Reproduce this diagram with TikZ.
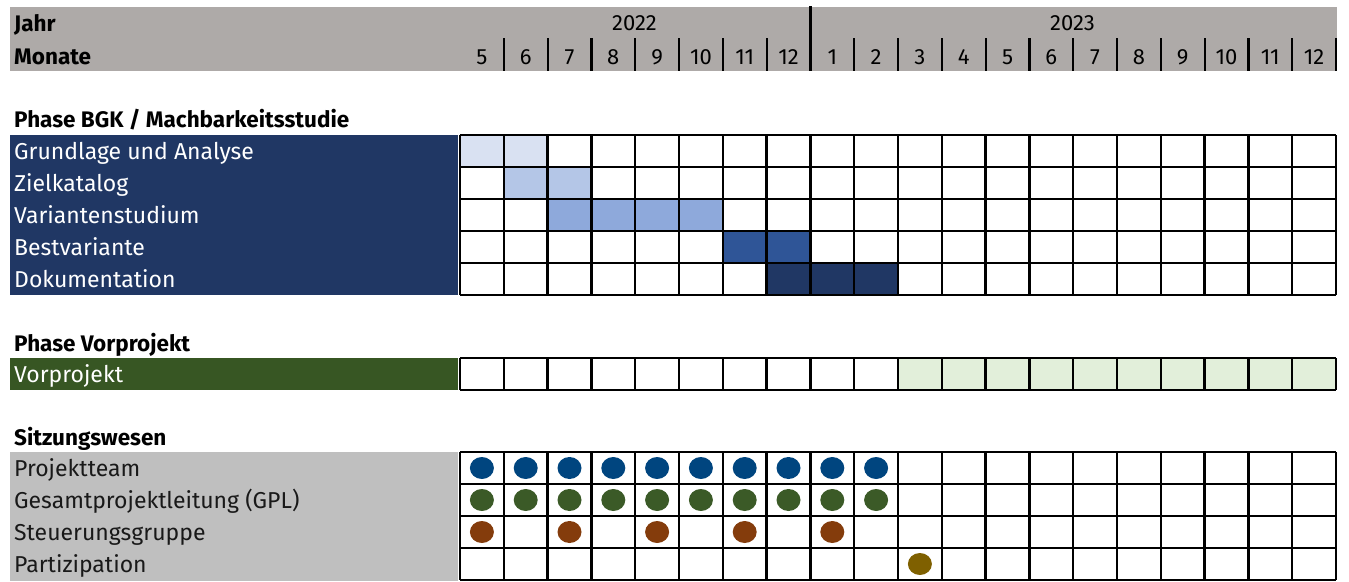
\documentclass[tikz,border=0pt]{standalone}
\usepackage{fontspec}
\setmainfont{Fira Sans}
\definecolor{hdr}{HTML}{AEAAA8}
\definecolor{navy}{HTML}{203764}
\definecolor{cA}{HTML}{D9E1F2}
\definecolor{cB}{HTML}{B4C6E7}
\definecolor{cC}{HTML}{8EA9DB}
\definecolor{cD}{HTML}{2F5597}
\definecolor{cE}{HTML}{203764}
\definecolor{dgreen}{HTML}{375623}
\definecolor{lgreen}{HTML}{E2EFDA}
\definecolor{lgray}{HTML}{BFBFBF}
\definecolor{dblue}{HTML}{00457F}
\definecolor{dgr}{HTML}{3B5A27}
\definecolor{dbrown}{HTML}{843C0C}
\definecolor{dolive}{HTML}{7F6000}
\newcommand\fszr{\fontsize{23pt}{26pt}\selectfont}
\newcommand\fszb{\fontsize{22.5pt}{26pt}\selectfont}
\newcommand\fszn{\fontsize{22pt}{26pt}\selectfont}
\tikzset{
  txt/.style={anchor=base west, inner sep=0pt, font=\fszr},
  btxt/.style={anchor=base west, inner sep=0pt, font=\fszb\bfseries},
  num/.style={anchor=base, inner sep=0pt, font=\fszn},
  gl/.style={line width=2.4pt, black},
  sep/.style={line width=2.2pt, black},
}
\begin{document}
\begin{tikzpicture}[x=1pt,y=-1pt]
\useasboundingbox (0,0) rectangle (1349,581);
% header
\fill[hdr] (10,7) rectangle (1337,71);
\node[btxt] (jahr) at (14,31) {Jahr};
\node[btxt] (monate) at (14,64) {Monate};
\node[num] (y2022) at (634.5,30) {2022};
\node[num] (y2023) at (1072.5,30) {2023};
\foreach \m [count=\i] in {5,6,7,8,9,10,11,12,1,2,3,4,5,6,7,8,9,10,11,12}
  \node[num] (m\i) at ({460+(\i-0.5)*43.8},64) {\m};
\foreach \i in {1,2,3,4,5,6,7,9,10,11,12,13,14,15,16,17,18,19,20}
  \draw[sep] ({460+\i*43.8},38) -- ({460+\i*43.8},71);
\draw[line width=2.8pt] ({460+8*43.8},6) -- ({460+8*43.8},71);

% Phase BGK
\node[btxt] (hBGK) at (14,127) {Phase BGK / Machbarkeitsstudie};
\fill[navy] (10,135) rectangle (458,295);
\foreach \t [count=\j] in {Grundlage und Analyse,Zielkatalog,Variantenstudium,Bestvariante,Dokumentation}
  \node[txt, text=white] (b\j) at (14,{135+(\j-1)*32+24}) {\t};
\foreach \c/\a/\b/\r in {cA/1/2/1, cB/2/3/2, cC/3/6/3, cD/7/8/4, cE/8/10/5}
  \fill[\c] ({460+(\a-1)*43.8},{135+(\r-1)*32}) rectangle ({460+\b*43.8},{135+\r*32});
\foreach \i in {0,...,20}
  \draw[gl] ({460+\i*43.8},135) -- ({460+\i*43.8},295);
\foreach \j in {0,...,5}
  \draw[gl] (460,{135+\j*32}) -- (1336,{135+\j*32});

% Phase Vorprojekt
\node[btxt] (hVP) at (14,351) {Phase Vorprojekt};
\fill[dgreen] (10,358) rectangle (458,390);
\node[txt, text=white] (vp) at (14,382) {Vorprojekt};
\fill[lgreen] ({460+10*43.8},358) rectangle (1336,390);
\foreach \i in {0,...,20}
  \draw[gl] ({460+\i*43.8},358) -- ({460+\i*43.8},390);
\draw[gl] (460,358) -- (1336,358);
\draw[gl] (460,390) -- (1336,390);

% Sitzungswesen
\node[btxt] (hSW) at (14,445) {Sitzungswesen};
\fill[lgray] (10,452) rectangle (458,581);
\foreach \t [count=\j] in {Projektteam,Gesamtprojektleitung (GPL),Steuerungsgruppe,Partizipation}
  \node[txt, text=black!90] (s\j) at (14,{452+(\j-1)*32+24}) {\t};
\foreach \i in {0,...,20}
  \draw[gl] ({460+\i*43.8},452) -- ({460+\i*43.8},580);
\foreach \j in {0,...,4}
  \draw[gl] (460,{452+\j*32}) -- (1336,{452+\j*32});
\foreach \i in {1,...,10} {
  \fill[dblue] ({460+(\i-0.5)*43.8},468) ellipse [x radius=12pt, y radius=11pt];
  \fill[dgr] ({460+(\i-0.5)*43.8},500) ellipse [x radius=12pt, y radius=11pt];
}
\foreach \i in {1,3,5,7,9}
  \fill[dbrown] ({460+(\i-0.5)*43.8},532) ellipse [x radius=12pt, y radius=11pt];
\fill[dolive] ({460+10.5*43.8},564) ellipse [x radius=12pt, y radius=11pt];
\end{tikzpicture}
\end{document}
